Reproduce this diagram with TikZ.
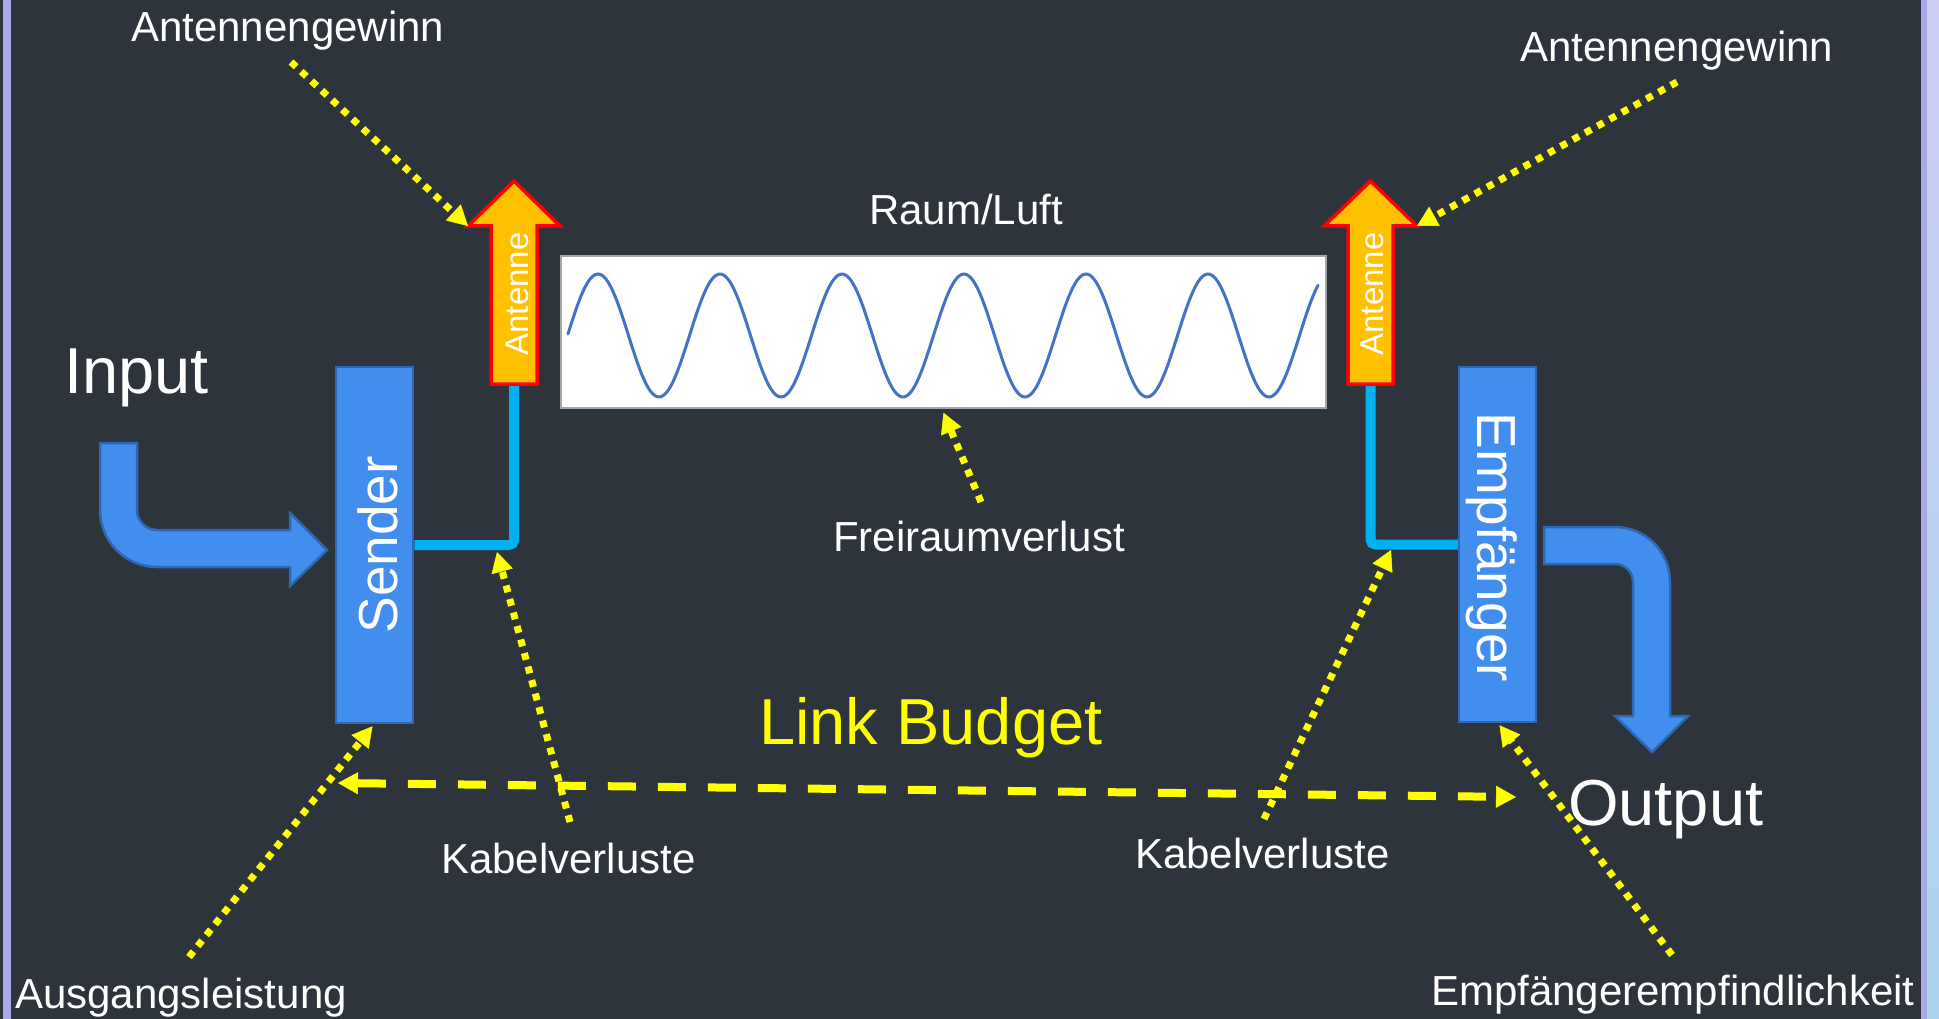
\documentclass[tikz,border=0pt]{standalone}
\usepackage{fontspec}
\setmainfont{Liberation Sans}
\usetikzlibrary{arrows.meta}
\definecolor{slidebg}{RGB}{46,52,60}
\definecolor{edgelilac}{RGB}{170,170,235}
\definecolor{edgesky}{RGB}{170,212,240}
\definecolor{blockblue}{RGB}{66,142,238}
\definecolor{blockline}{RGB}{47,103,178}
\definecolor{cablecyan}{RGB}{0,176,240}
\definecolor{antorange}{RGB}{255,192,0}
\definecolor{wavecol}{RGB}{68,114,196}
\definecolor{hiyellow}{RGB}{255,255,0}
\begin{document}
\begin{tikzpicture}[x=1pt,y=-1pt,
  blockbox/.style={draw=blockline, line width=2.5pt, fill=blockblue, inner sep=0pt},
  bigarrow/.style={draw=blockline, line width=2.5pt, fill=blockblue, line join=miter},
  antshape/.style={draw=red, line width=3.5pt, fill=antorange, line join=miter},
  cable/.style={draw=cablecyan, line width=10pt, rounded corners=5pt},
  lbl/.style={text=white, inner sep=0pt, anchor=base west, font=\fontsize{42}{50}\selectfont},
  biglbl/.style={inner sep=0pt, anchor=base west, font=\fontsize{65}{78}\selectfont},
  vlbl/.style={text=white, inner sep=0pt, anchor=base, font=\fontsize{55}{66}\selectfont},
  antlbl/.style={text=white, inner sep=0pt, anchor=base, rotate=90, font=\fontsize{33}{40}\selectfont},
  pointer/.style={draw=hiyellow, line width=7pt, dash pattern=on 7pt off 7pt,
    -{Triangle[length=20pt,width=22pt,line width=0.5pt]}},
  budget/.style={draw=hiyellow, line width=8pt, dash pattern=on 28pt off 22pt,
    {Triangle[length=20pt,width=22pt,line width=0.5pt]}-{Triangle[length=20pt,width=22pt,line width=0.5pt]}},
]
% slide background and edge stripes
\fill[slidebg] (0,0) rectangle (1939,1019);
\useasboundingbox (0,0) rectangle (1939,1019);
\fill[edgelilac] (3,0) rectangle (11,1019);
\fill[edgelilac] (1921,0) rectangle (1927,1019);
\shade[top color=edgelilac!60!white, bottom color=edgesky] (1927,0) rectangle (1939,1019);

% transmitter and receiver blocks
\node[blockbox, minimum width=77pt, minimum height=356pt] (sender) at (374.5,545) {};
\node[blockbox, minimum width=77pt, minimum height=355pt] (recv) at (1497.5,544.5) {};
\node[vlbl, rotate=90] (sendertxt) at (397,545) {Sender};
\node[vlbl, rotate=-90] (recvtxt) at (1477,547.5) {Empfänger};

% antenna feet
\coordinate (antLfoot) at (514,384);
\coordinate (antRfoot) at (1370.5,384);
\coordinate (antLwing) at (468,226);
\coordinate (antRwing) at (1417,226);

% cables
\draw[cable] (sender.east) -| (antLfoot);
\draw[cable] (recv.west) -| (antRfoot);

% antennas
\draw[antshape] (491,384) -- (491,226) -- (468,226) -- (514,181) -- (560,226) -- (537,226) -- (537,384) -- cycle;
\draw[antshape] (1348,384) -- (1348,226) -- (1324,226) -- (1370.5,181) -- (1417,226) -- (1393,226) -- (1393,384) -- cycle;
\node[antlbl] (antLtxt) at (528,294) {Antenne};
\node[antlbl] (antRtxt) at (1383,294) {Antenne};

% free space with carrier wave
\node[draw=gray!70, line width=1.5pt, fill=white, minimum width=765pt, minimum height=152pt, inner sep=0pt] (air) at (943.5,332) {};
\draw[wavecol, line width=3pt, line cap=round]
  plot[domain=568:1318, samples=300, smooth] (\x, {335.5-61.5*sin((\x-567.5)/122*360)});

% input and output arrows
\draw[bigarrow] (100,443) -- (100,510)
  .. controls (100,541.5) and (125.5,567) .. (157,567)
  -- (290,567) -- (290,586) -- (327,550) -- (290,513) -- (290,530) -- (157,530)
  .. controls (146,530) and (137,521) .. (137,510) -- (137,443) -- cycle;
\draw[bigarrow] (1544,527) -- (1615,527)
  .. controls (1645.4,527) and (1670,551.6) .. (1670,582)
  -- (1670,716) -- (1688,716) -- (1652,752) -- (1615,716) -- (1633,716) -- (1633,582)
  .. controls (1633,572.1) and (1624.9,564) .. (1615,564) -- (1544,564) -- cycle;

% labels
\node[lbl] (gainL) at (131,42) {Antennengewinn};
\node[lbl] (gainR) at (1520,62) {Antennengewinn};
\node[lbl] (raum) at (869,225) {Raum/Luft};
\node[lbl] (frei) at (833,551) {Freiraumverlust};
\node[lbl] (kabL) at (441,873) {Kabelverluste};
\node[lbl] (kabR) at (1135,868) {Kabelverluste};
\node[lbl] (ausg) at (15,1008) {Ausgangsleistung};
\node[lbl] (empf) at (1431,1005) {Empfängerempfindlichkeit};
\node[biglbl, text=white] (input) at (64,393) {Input};
\node[biglbl, text=white] (output) at (1568,825) {Output};
\node[biglbl, text=hiyellow] (budgettxt) at (759,744) {Link Budget};

% pointer feet next to the labels
\coordinate (gainLfoot) at (291,62);
\coordinate (gainRfoot) at (1677,82);
\coordinate (freiFoot) at (981,502);
\coordinate (kabLfoot) at (570,822);
\coordinate (kabRfoot) at (1264,819);
\coordinate (ausgFoot) at (189,957);
\coordinate (empfFoot) at (1672,955);
\coordinate (cableLpt) at (497,552);
\coordinate (cableRpt) at (1391,550);

% pointers
\draw[pointer] (gainLfoot) -- (antLwing);
\draw[pointer] (gainRfoot) -- (antRwing);
\draw[pointer] (freiFoot) -- ([yshift=-4pt]air.south);
\draw[pointer] (kabLfoot) -- (cableLpt);
\draw[pointer] (kabRfoot) -- (cableRpt);
\draw[pointer] (ausgFoot) -- ([xshift=-2pt,yshift=-2pt]sender.south);
\draw[pointer] (empfFoot) -- ([xshift=2pt,yshift=-2pt]recv.south);

% link budget span
\coordinate (budgetL) at (338,783);
\coordinate (budgetR) at (1516,797);
\draw[budget] (budgetL) -- (budgetR);
\end{tikzpicture}
\end{document}
